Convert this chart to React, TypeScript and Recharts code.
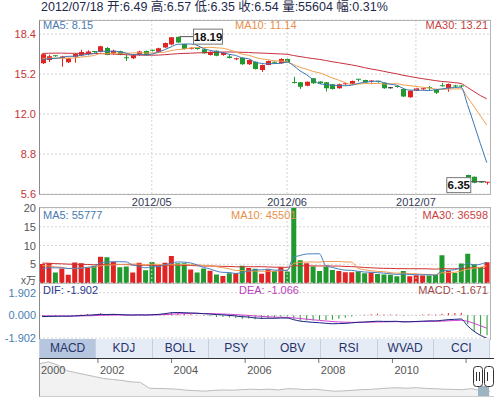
import React from "react";
import {
  ComposedChart,
  Bar,
  Line,
  XAxis,
  YAxis,
  CartesianGrid,
  ReferenceLine,
  ReferenceDot,
  Cell,
  AreaChart,
  Area,
} from "recharts";

const FONT = "'Liberation Sans', Arial, 'Noto Sans CJK SC', sans-serif";

// ---------- data ----------
const opens = [
  16.06, 16.32, 16.66, 16.46, 16.14, 16.58, 16.7, 16.8, 17.0, 16.96,
  17.28, 16.86, 17.02, 16.5, 16.46, 16.72, 17.04, 17.1, 16.98, 17.32,
  17.56, 18.17, 17.6, 17.24, 17.24, 17.18, 16.72, 17.06, 16.72, 16.6,
  16.4, 16.5, 15.98, 16.18, 15.52, 15.92, 16.14, 16.06, 16.4, 14.52,
  14.54, 14.26, 14.86, 14.6, 14.54, 14.38, 14.06, 14.38, 14.42, 14.78,
  14.72, 14.56, 14.62, 14.5, 14.1, 14.2, 14.0, 13.34, 13.86, 13.98,
  14.1, 13.96, 14.26, 14.06, 14.24, 14.24, 7.12, 6.98, 6.56, 6.49,
];
const highs = [
  16.82, 16.74, 16.7, 16.66, 16.5, 16.86, 17.14, 17.1, 17.04, 17.46,
  17.36, 17.14, 17.06, 16.72, 16.76, 17.06, 17.08, 17.14, 17.3, 17.72,
  18.16, 18.19, 17.62, 17.34, 17.3, 17.2, 17.0, 17.08, 16.94, 16.76,
  16.5, 16.52, 16.36, 16.2, 15.96, 16.28, 16.2, 16.46, 16.44, 14.98,
  14.56, 14.6, 14.88, 14.62, 14.56, 14.4, 14.42, 14.46, 14.68, 14.8,
  14.74, 14.7, 14.66, 14.52, 14.16, 14.3, 14.02, 13.9, 14.1, 14.08,
  14.24, 14.0, 14.5, 14.44, 14.34, 14.32, 7.14, 7.0, 6.62, 6.57,
];
const lows = [
  16.0, 16.16, 16.58, 15.78, 16.08, 16.1, 16.62, 16.7, 16.9, 16.92,
  16.7, 16.74, 16.7, 16.24, 16.4, 16.66, 16.7, 17.0, 16.94, 17.3,
  17.5, 17.7, 17.16, 17.16, 17.14, 16.82, 16.68, 16.62, 16.66, 16.44,
  16.3, 15.94, 15.92, 15.56, 15.36, 15.9, 16.04, 16.02, 16.1, 14.44,
  14.0, 14.22, 14.42, 14.4, 13.8, 13.96, 14.02, 14.34, 14.4, 14.6,
  14.48, 14.5, 14.5, 14.02, 14.04, 14.1, 13.36, 13.3, 13.84, 13.94,
  13.92, 13.6, 14.2, 13.78, 14.1, 14.12, 6.72, 6.46, 6.48, 6.35,
];
const closes = [
  16.78, 16.62, 16.62, 16.6, 16.46, 16.8, 16.96, 17.0, 16.96, 17.42,
  16.72, 17.06, 16.74, 16.46, 16.7, 17.0, 16.72, 17.06, 17.26, 17.68,
  18.14, 17.72, 17.2, 17.26, 17.2, 16.86, 16.98, 16.66, 16.9, 16.48,
  16.42, 15.98, 16.32, 15.6, 15.92, 16.24, 16.1, 16.4, 16.14, 14.46,
  14.18, 14.58, 14.46, 14.46, 14.06, 14.0, 14.38, 14.42, 14.64, 14.76,
  14.52, 14.64, 14.58, 14.06, 14.1, 14.14, 13.4, 13.86, 14.06, 14.02,
  14.05, 13.7, 14.22, 14.4, 14.2, 14.2, 6.78, 6.5, 6.52, 6.54,
];
// volume in 万 (10k shares)
const volumes = [
  5.1, 5.3, 2.8, 3.9, 2.2, 5.5, 5.3, 4.1, 4.6, 7.0,
  6.9, 5.7, 4.2, 4.4, 2.8, 5.4, 3.4, 5.6, 4.6, 5.4,
  7.2, 5.3, 5.3, 3.6, 2.8, 3.9, 3.3, 2.3, 1.9, 2.6,
  2.6, 4.6, 4.0, 3.8, 2.5, 3.6, 3.2, 4.2, 3.1, 20.0,
  6.1, 5.3, 4.4, 3.2, 4.4, 3.5, 3.2, 2.9, 2.9, 3.1,
  2.6, 2.8, 2.4, 2.3, 2.2, 1.8, 3.2, 1.8, 2.1, 2.0,
  2.0, 2.3, 7.4, 3.2, 2.7, 5.2, 7.8, 5.0, 4.3, 5.5604,
];
// estimated sessions before the visible window (needed for the moving averages)
const seedCloses = [
  16.2, 16.4, 16.5, 16.8, 16.9, 17.1, 17.0, 17.3, 17.5, 17.4,
  17.6, 17.5, 17.3, 17.4, 17.2, 17.0, 17.1, 16.9, 16.8, 16.9,
  16.6, 16.5, 16.7, 16.4, 16.6, 16.3, 16.5, 16.2, 16.0,
];
const seedVolumes = [
  5.8, 6.2, 5.1, 4.9, 6.5, 5.4, 5.9, 6.8, 5.2, 4.8,
  5.6, 6.0, 5.3, 5.7, 6.3, 4.7, 5.5, 5.9, 5.0, 6.1,
  5.4, 5.8, 4.9, 5.6, 5.8, 3.5, 3.0, 3.8, 3.2,
];

const monthTicks = [17, 38, 58];
const monthLabels = ["2012/05", "2012/06", "2012/07"];
const priceTicks = [5.6, 8.8, 12.0, 15.2, 18.4];
const priceDomain = [5.6, 19.52];
const volTicks = [0, 5, 10, 15, 20];
const macdTicks = [-1.902, 0, 1.902];
const macdDomain = [-1.902, 2.71];

const lastBar = { date: "2012/07/18", open: 6.49, high: 6.57, low: 6.35, close: 6.54, vol: 55604, change: "0.31%" };
const priceLegend = { ma5: "8.15", ma10: "11.14", ma30: "13.21" };
const volLegend = { ma5: "55777", ma10: "45501", ma30: "36598" };
const macdLegend = { dif: "-1.902", dea: "-1.066", macd: "-1.671" };

const tabs = ["MACD", "KDJ", "BOLL", "PSY", "OBV", "RSI", "WVAD", "CCI"];

const navStart = 2000.4;
const navStep = 0.25;
const navValues = [
  34, 36, 33, 27, 25, 23, 21, 19, 18, 17,
  15.5, 15, 9, 8.7, 8.5, 8, 7, 6.5, 6, 6.8,
  7.2, 7, 7.5, 8, 7.6, 8, 7.2, 8.5, 8.3, 7.5,
  8, 7, 6, 6.2, 6.8, 7.5, 7.8, 8.5, 9.2, 9.5,
  9, 9.6, 8.8, 8.5, 8, 7.8, 7.5, 8.6, 6.5, 6,
];
const navTicks = [2000.4, 2002, 2004, 2006, 2008, 2010, 2012];
const navTickLabels = ["2000", "2002", "2004", "2006", "2008", "2010", ""];

// ---------- derived ----------
const UP = "#e02424";
const DOWN = "#22992e";
const DOJI = "#222222";

const sma = (full: number[], n: number, offset: number) =>
  closes.map((_, i) => {
    const end = i + offset;
    let s = 0;
    for (let k = end - n + 1; k <= end; k++) s += full[k];
    return s / n;
  });
const ema = (arr: number[], n: number) => {
  const a = 2 / (n + 1);
  const out: number[] = [];
  let e = arr[0];
  arr.forEach((v, i) => {
    e = i === 0 ? v : a * v + (1 - a) * e;
    out.push(e);
  });
  return out;
};

const fullC = [...seedCloses, ...closes];
const fullV = [...seedVolumes, ...volumes];
const off = seedCloses.length;
const ma5 = sma(fullC, 5, off);
const ma10 = sma(fullC, 10, off);
const ma30 = sma(fullC, 30, off);
const vma5 = sma(fullV, 5, off);
const vma10 = sma(fullV, 10, off);
const vma30 = sma(fullV, 30, off);
const e12 = ema(fullC, 12);
const e26 = ema(fullC, 26);
const difFull = e12.map((v, i) => v - e26[i]);
const deaFull = ema(difFull, 9);

const rows = closes.map((c, i) => {
  const dif = difFull[i + off];
  const dea = deaFull[i + off];
  return {
    idx: i,
    open: opens[i],
    high: highs[i],
    low: lows[i],
    close: c,
    vol: volumes[i],
    ma5: ma5[i],
    ma10: ma10[i],
    ma30: ma30[i],
    vma5: vma5[i],
    vma10: vma10[i],
    vma30: vma30[i],
    dif,
    dea,
    macd: 2 * (dif - dea),
  };
});

const maxIdx = highs.indexOf(Math.max(...highs));
const minIdx = lows.indexOf(Math.min(...lows));

const navRows = navValues.map((v, i) => ({ t: navStart + i * navStep, v }));

const candleColor = (o: number, c: number) => (c > o ? UP : c < o ? DOWN : DOJI);
const volColor = (o: number, c: number) => (c > o ? UP : DOWN);

// ---------- shapes ----------
const Candle = (props: any) => {
  const { x, y, width, height, payload } = props;
  if (!payload) return null;
  const { open, close, high, low } = payload;
  const top = Math.min(y, y + height);
  const h = Math.abs(height);
  const span = high - low;
  const py = (v: number) => (span > 0 ? top + ((high - v) / span) * h : top);
  const cx = Math.round(x + width / 2) + 0.5;
  const color = candleColor(open, close);
  const bTop = py(Math.max(open, close));
  const bBot = py(Math.min(open, close));
  return (
    <g>
      <line x1={cx} x2={cx} y1={top} y2={top + h} stroke={color} strokeWidth={1} />
      {bBot - bTop < 1.2 ? (
        <line x1={cx - 2.5} x2={cx + 2.5} y1={bTop} y2={bTop} stroke={color} strokeWidth={1} />
      ) : (
        <rect x={cx - 2.5} y={bTop} width={5} height={bBot - bTop} fill={color} />
      )}
    </g>
  );
};

const MaxMarker = (props: any) => {
  const { cx, cy } = props;
  return (
    <g>
      <line x1={cx + 2} x2={cx + 16} y1={cy} y2={cy} stroke="#555" />
      <rect x={cx + 16} y={cy - 7.5} width={29} height={15} fill="#fff" stroke="#777" />
      <text x={cx + 30.5} y={cy + 4} textAnchor="middle" fontSize={11.5} fontWeight="bold" fill="#111" fontFamily={FONT}>
        {highs[maxIdx].toFixed(2)}
      </text>
    </g>
  );
};
const MinMarker = (props: any) => {
  const { cx, cy } = props;
  return (
    <g>
      <line x1={cx - 16} x2={cx - 1} y1={cy - 3} y2={cy - 3} stroke="#555" />
      <rect x={cx - 40} y={cy - 7} width={24} height={15} fill="#fff" stroke="#777" />
      <text x={cx - 28} y={cy + 4.5} textAnchor="middle" fontSize={11.5} fontWeight="bold" fill="#111" fontFamily={FONT}>
        {lows[minIdx].toFixed(2)}
      </text>
    </g>
  );
};

const VolTick = (p: any) => {
  const v = p.payload.value;
  const zero = v === 0;
  return (
    <text
      x={p.x}
      y={p.y + (zero ? 1 : 4)}
      textAnchor="end"
      fontSize={zero ? 10 : 11}
      fill="#555"
      fontFamily={FONT}
    >
      {zero ? "x万" : String(v)}
    </text>
  );
};

const NavLabel = (i: number) => (p: any) => {
  const vb = p.viewBox || {};
  const x = vb.x ?? 0;
  const y = vb.y ?? 0;
  return (
    <g>
      {i > 0 && <line x1={x} x2={x} y1={y + 1} y2={y + 5} stroke="#777" />}
      <text x={x + 2} y={y + 16} fontSize={11} fill="#555" fontFamily={FONT}>
        {navTickLabels[i]}
      </text>
    </g>
  );
};

// ---------- layout helpers ----------
const abs = (left: number, top: number, extra: React.CSSProperties = {}): React.CSSProperties => ({
  position: "absolute",
  left,
  top,
  ...extra,
});
const legendStyle = (left: number, top: number, color: string, right = false): React.CSSProperties => ({
  position: "absolute",
  top,
  ...(right ? { right: 494 - 488 } : { left }),
  color,
  fontSize: 11,
  lineHeight: "12px",
  fontFamily: FONT,
  whiteSpace: "nowrap",
  pointerEvents: "none",
});

const GRID = "#d4d4d4";

export default function App() {
  const title = `${lastBar.date} 开:${lastBar.open.toFixed(2)} 高:${lastBar.high.toFixed(2)} 低:${lastBar.low.toFixed(
    2
  )} 收:${lastBar.close.toFixed(2)} 量:${lastBar.vol} 幅:${lastBar.change}`;
  return (
    <div style={{ position: "absolute", left: 0, top: 0, width: 494, height: 398, background: "#fff", overflow: "hidden", fontFamily: FONT }}>
      <div style={abs(41, 0, { fontSize: 12.5, lineHeight: "14px", color: "#1e2a4a", whiteSpace: "nowrap" })}>{title}</div>

      {/* price panel */}
      <div style={abs(0, 0)}>
        <ComposedChart width={494} height={210} data={rows} margin={{ top: 20, right: 4, bottom: 0, left: 0 }}>
          <CartesianGrid vertical={false} stroke={GRID} strokeDasharray="2 2" />
          <XAxis
            dataKey="idx"
            type="category"
            ticks={monthTicks}
            interval={0}
            height={16}
            tickSize={0}
            tickMargin={4}
            axisLine={false}
            tickLine={false}
            tick={{ fill: "#333a55", fontSize: 11, fontFamily: FONT }}
            tickFormatter={(v: any) => monthLabels[monthTicks.indexOf(Number(v))] ?? ""}
          />
          <YAxis
            width={39}
            domain={priceDomain}
            allowDataOverflow
            ticks={priceTicks}
            interval={0}
            tickSize={0}
            tickMargin={3}
            axisLine={false}
            tickLine={false}
            tick={{ fill: "#c83434", fontSize: 11, fontFamily: FONT }}
            tickFormatter={(v: number) => v.toFixed(1)}
          />
          {monthTicks.map((t) => (
            <ReferenceLine key={t} x={t} stroke={GRID} strokeDasharray="2 2" />
          ))}
          <Line dataKey="ma30" stroke="#c8303c" strokeWidth={1} dot={false} isAnimationActive={false} type="monotone" />
          <Line dataKey="ma10" stroke="#f0a050" strokeWidth={1} dot={false} isAnimationActive={false} type="monotone" />
          <Line dataKey="ma5" stroke="#3c78b4" strokeWidth={1} dot={false} isAnimationActive={false} type="monotone" />
          <Bar dataKey={(d: any) => [d.low, d.high]} barSize={5} shape={Candle} isAnimationActive={false} />
          <ReferenceDot x={maxIdx} y={highs[maxIdx]} shape={MaxMarker} />
          <ReferenceDot x={minIdx} y={lows[minIdx]} shape={MinMarker} />
        </ComposedChart>
      </div>
      <div style={abs(39, 20, { width: 452, height: 175, boxSizing: "border-box", border: "1px solid #b4b4b4", borderLeft: "1px solid #8a8a8a", pointerEvents: "none" })} />
      <div style={legendStyle(43, 19, "#4a7ab0")}>MA5: {priceLegend.ma5}</div>
      <div style={legendStyle(235, 19, "#e8904a")}>MA10: {priceLegend.ma10}</div>
      <div style={legendStyle(0, 19, "#c84040", true)}>MA30: {priceLegend.ma30}</div>

      {/* volume panel */}
      <div style={abs(0, 200)}>
        <ComposedChart width={494} height={90} data={rows} margin={{ top: 8, right: 4, bottom: 7, left: 0 }}>
          <CartesianGrid vertical={false} stroke={GRID} strokeDasharray="2 2" />
          <XAxis dataKey="idx" type="category" hide />
          <YAxis
            width={39}
            domain={[0, 20]}
            allowDataOverflow
            ticks={volTicks}
            interval={0}
            tickSize={0}
            tickMargin={3}
            axisLine={false}
            tickLine={false}
            tick={VolTick}
          />
          {monthTicks.map((t) => (
            <ReferenceLine key={t} x={t} stroke={GRID} strokeDasharray="2 2" />
          ))}
          <Bar dataKey="vol" barSize={5} isAnimationActive={false}>
            {rows.map((r) => (
              <Cell key={r.idx} fill={volColor(r.open, r.close)} />
            ))}
          </Bar>
          <Line dataKey="vma30" stroke="#d03030" strokeWidth={1} dot={false} isAnimationActive={false} type="monotone" />
          <Line dataKey="vma10" stroke="#f09850" strokeWidth={1} dot={false} isAnimationActive={false} type="monotone" />
          <Line dataKey="vma5" stroke="#4a80c0" strokeWidth={1} dot={false} isAnimationActive={false} type="monotone" />
        </ComposedChart>
      </div>
      <div style={abs(39, 207, { width: 452, height: 77, boxSizing: "border-box", border: "1px solid #b4b4b4", borderLeft: "1px solid #8a8a8a", pointerEvents: "none" })} />
      <div style={legendStyle(43, 209, "#4a7ab0")}>MA5: {volLegend.ma5}</div>
      <div style={legendStyle(231, 209, "#e8904a")}>MA10: {volLegend.ma10}</div>
      <div style={legendStyle(0, 209, "#c84040", true)}>MA30: {volLegend.ma30}</div>

      {/* MACD panel */}
      <div style={abs(0, 275)}>
        <ComposedChart width={494} height={70} data={rows} margin={{ top: 8, right: 4, bottom: 7, left: 0 }}>
          <CartesianGrid vertical={false} stroke={GRID} strokeDasharray="2 2" />
          <XAxis dataKey="idx" type="category" hide />
          <YAxis
            width={39}
            domain={macdDomain}
            allowDataOverflow
            ticks={macdTicks}
            interval={0}
            tickSize={0}
            tickMargin={3}
            axisLine={false}
            tickLine={false}
            tick={{ fill: "#4a80b0", fontSize: 11, fontFamily: FONT }}
            tickFormatter={(v: number) => v.toFixed(3)}
          />
          <Bar dataKey="macd" barSize={1} isAnimationActive={false}>
            {rows.map((r) => (
              <Cell key={r.idx} fill={r.macd >= 0 ? UP : DOWN} />
            ))}
          </Bar>
          <Line dataKey="dea" stroke="#d040d0" strokeWidth={1} dot={false} isAnimationActive={false} type="monotone" />
          <Line dataKey="dif" stroke="#1a2080" strokeWidth={1} dot={false} isAnimationActive={false} type="monotone" />
        </ComposedChart>
      </div>
      <div style={abs(39, 283, { width: 452, height: 57, boxSizing: "border-box", borderLeft: "1px solid #8a8a8a", borderRight: "1px solid #b4b4b4", borderBottom: "1px solid #b4b4b4", pointerEvents: "none" })} />
      <div style={legendStyle(43, 284, "#2a3a8a")}>DIF: {macdLegend.dif}</div>
      <div style={legendStyle(239, 284, "#c040c0")}>DEA: {macdLegend.dea}</div>
      <div style={legendStyle(0, 284, "#a04848", true)}>MACD: {macdLegend.macd}</div>

      {/* tabs */}
      <div style={abs(39, 339, { width: 451, height: 19, display: "flex", borderLeft: "1px solid #c5d0e2", boxSizing: "border-box" })}>
        {tabs.map((t, i) => (
          <div
            key={t}
            style={{
              flex: 1,
              background: i === 0 ? "#b6c6de" : "#e6ecf6",
              borderRight: "1px solid #c5d0e2",
              color: "#26336b",
              fontSize: 12,
              lineHeight: "19px",
              textAlign: "center",
              fontFamily: FONT,
            }}
          >
            {t}
          </div>
        ))}
      </div>

      {/* navigator */}
      <div style={abs(0, 358)}>
        <AreaChart width={494} height={39} data={navRows} margin={{ top: 0, right: 4, bottom: 0, left: 39 }}>
          <XAxis dataKey="t" type="number" domain={[2000.4, 2012.65]} hide />
          <YAxis hide domain={[0, 40]} />
          <Area dataKey="v" type="linear" stroke="#bcbcbc" strokeWidth={1} fill="#e6e6e6" fillOpacity={0.5} isAnimationActive={false} />
          {navTicks.map((t, i) => (
            <ReferenceLine key={t} x={t} stroke="none" label={NavLabel(i)} />
          ))}
        </AreaChart>
      </div>
      <div style={abs(39, 358, { width: 455, height: 39, boxSizing: "border-box", borderTop: "1px solid #333", borderLeft: "1px solid #999", borderBottom: "1px solid #ccc", pointerEvents: "none" })} />
      <svg style={abs(0, 0, { pointerEvents: "none" })} width={494} height={398}>
        <rect x={478} y={386} width={11} height={10} fill="#9db5c2" />
        <rect x={473.5} y={366.5} width={9} height={20} rx={3} fill="#fff" stroke="#333" />
        <line x1={476.5} x2={476.5} y1={372} y2={381} stroke="#333" />
        <line x1={479.5} x2={479.5} y1={372} y2={381} stroke="#333" />
        <rect x={484.5} y={366.5} width={9} height={20} rx={3} fill="#fff" stroke="#333" />
        <line x1={487.5} x2={487.5} y1={372} y2={381} stroke="#333" />
      </svg>
    </div>
  );
}
